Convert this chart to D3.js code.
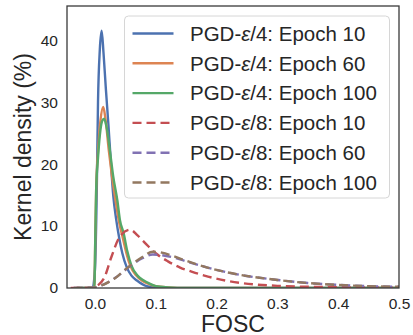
<!DOCTYPE html>
<html lang="en">
<head>
    <meta charset="UTF-8">
    <title>Kernel density of FOSC</title>
    <style>
        body { margin: 0; background: #fff; }
        svg text { font-family: Arial, "Liberation Sans", sans-serif; fill: #262626; }
        .tick text { font-size: 15.5px; }
        .tick line { display: none; }
        .domain { display: none; }
        .axis-label { font-size: 23px; }
        .legend-text { font-size: 20.5px; }
    </style>
</head>
<body>
    <svg width="413" height="335"></svg>

    <script src="https://d3js.org/d3.v7.min.js"></script>
    <script>

        // Tick values shown on the axes
        const xTicks = [0.0, 0.1, 0.2, 0.3, 0.4, 0.5];
        const yTicks = [0, 10, 20, 30, 40];

        // Legend labels (series names), split around the math epsilon
        const seriesNames = [
            ['PGD-', '\u03b5', '/4: Epoch 10'],
            ['PGD-', '\u03b5', '/4: Epoch 60'],
            ['PGD-', '\u03b5', '/4: Epoch 100'],
            ['PGD-', '\u03b5', '/8: Epoch 10'],
            ['PGD-', '\u03b5', '/8: Epoch 60'],
            ['PGD-', '\u03b5', '/8: Epoch 100']
        ];

        // Density curves: [FOSC, density %]
        const eps4Epoch10 = [
            [-0.03, 0], [-0.004, 0], [0.0, 3], [0.003, 16], [0.005, 30], [0.008, 38.5],
            [0.011, 41.5], [0.014, 38], [0.018, 32], [0.022, 26.5], [0.026, 20.5],
            [0.03, 15], [0.035, 11], [0.04, 8], [0.045, 5.6], [0.052, 3.4],
            [0.06, 2], [0.069, 1.2], [0.085, 0.3], [0.1, 0.1], [0.15, 0], [0.5, 0]
        ];
        const eps4Epoch60 = [
            [-0.03, 0], [-0.001, 0], [0.0005, 8], [0.002, 16], [0.005, 22], [0.009, 27],
            [0.0135, 29.2], [0.017, 27.5], [0.023, 22], [0.028, 18], [0.034, 14],
            [0.04, 10.5], [0.046, 8], [0.052, 5.5], [0.058, 3.6], [0.068, 2],
            [0.077, 1.2], [0.09, 0.6], [0.1, 0.3], [0.12, 0.1], [0.15, 0], [0.5, 0]
        ];
        const eps4Epoch100 = [
            [-0.03, 0], [-0.001, 0], [0.0005, 8], [0.002, 16], [0.005, 21], [0.009, 25.5],
            [0.012, 27], [0.015, 27.3], [0.019, 26], [0.025, 21.8], [0.03, 18],
            [0.037, 14], [0.041, 11], [0.047, 8.9], [0.053, 6], [0.06, 3.6],
            [0.07, 2], [0.079, 1.3], [0.09, 0.7], [0.1, 0.3], [0.12, 0.1], [0.15, 0], [0.5, 0]
        ];
        const eps8Epoch10 = [
            [-0.04, 0], [-0.005, 0], [0.003, 0.3], [0.016, 1.8], [0.027, 5], [0.041, 8.3],
            [0.058, 9.4], [0.07, 8.5], [0.085, 7.0], [0.1, 5.6], [0.12, 4.3],
            [0.14, 3.3], [0.16, 2.6], [0.18, 2.0], [0.22, 1.1], [0.26, 0.6],
            [0.3, 0.35], [0.35, 0.2], [0.4, 0.12], [0.45, 0.08], [0.5, 0.05]
        ];
        const eps8Epoch60 = [
            [-0.035, 0], [0.0, 0.1], [0.015, 0.6], [0.036, 1.8], [0.05, 2.9], [0.063, 3.9],
            [0.078, 4.8], [0.095, 5.4], [0.11, 5.3], [0.13, 4.9], [0.15, 4.3],
            [0.185, 3.3], [0.24, 2.1], [0.3, 1.3], [0.35, 0.8], [0.4, 0.5],
            [0.45, 0.3], [0.5, 0.2]
        ];
        const eps8Epoch100 = [
            [-0.035, 0], [0.0, 0.1], [0.015, 0.6], [0.036, 1.8], [0.05, 3], [0.063, 4],
            [0.078, 5], [0.095, 5.85], [0.11, 5.7], [0.13, 5.1], [0.15, 4.4],
            [0.185, 3.3], [0.24, 2.1], [0.3, 1.3], [0.35, 0.8], [0.4, 0.5],
            [0.45, 0.3], [0.5, 0.2]
        ];

        const seriesValues = [eps4Epoch10, eps4Epoch60, eps4Epoch100,
                              eps8Epoch10, eps8Epoch60, eps8Epoch100];

        // seaborn "deep" palette
        const colors = ['#4c72b0', '#dd8452', '#55a868', '#c44e52', '#8172b3', '#937860'];
        const dashed = [false, false, false, true, true, true];

        const margin = { left: 67, right: 14, top: 6, bottom: 47 };

        const svg = d3.select('svg');
        const width = +svg.attr('width');
        const height = +svg.attr('height');
        const innerWidth = width - margin.left - margin.right;
        const innerHeight = height - margin.top - margin.bottom;

        const xScale = d3.scaleLinear()
            .domain([-0.046, 0.5])
            .range([0, innerWidth]);

        const yScale = d3.scaleLinear()
            .domain([0, 45.5])
            .range([innerHeight, 0]);

        const group = svg.append('g')
            .attr('transform', 'translate(' + margin.left + ' ' + margin.top + ')');

        svg.append('defs').append('clipPath')
            .attr('id', 'plot-clip')
            .append('rect')
            .attr('width', innerWidth)
            .attr('height', innerHeight);

        // Axes (no tick marks, only labels)
        group.append('g')
            .attr('transform', 'translate(0 ' + innerHeight + ')')
            .call(d3.axisBottom(xScale)
                .tickValues(xTicks)
                .tickFormat(d3.format('.1f'))
                .tickSize(0)
                .tickPadding(10));

        group.append('g')
            .call(d3.axisLeft(yScale)
                .tickValues(yTicks)
                .tickSize(0)
                .tickPadding(9));

        // Curves
        const line = d3.line()
            .x(function (d) { return xScale(d[0]); })
            .y(function (d) { return yScale(d[1]); })
            .curve(d3.curveMonotoneX);

        const curves = group.append('g')
            .attr('clip-path', 'url(#plot-clip)');

        seriesValues.forEach(function (values, i) {
            curves.append('path')
                .datum(values)
                .attr('d', line)
                .attr('fill', 'none')
                .attr('stroke', colors[i])
                .attr('stroke-width', 2.4)
                .attr('stroke-linejoin', 'round')
                .attr('stroke-dasharray', dashed[i] ? '9 5' : null);
        });

        // Frame
        group.append('rect')
            .attr('width', innerWidth)
            .attr('height', innerHeight)
            .attr('fill', 'none')
            .attr('stroke', '#3a3a3a')
            .attr('stroke-width', 1.3);

        // Axis labels
        group.append('text')
            .attr('class', 'axis-label')
            .attr('x', innerWidth / 2)
            .attr('y', innerHeight + 44)
            .attr('text-anchor', 'middle')
            .text('FOSC');

        group.append('text')
            .attr('class', 'axis-label')
            .attr('transform', 'rotate(-90)')
            .attr('x', -innerHeight / 2)
            .attr('y', -36.5)
            .attr('text-anchor', 'middle')
            .text('Kernel density (%)');

        // Legend
        const legendG = group.append('g')
            .attr('transform', 'translate(' + (124.5 - margin.left) + ' ' + (16 - margin.top) + ')');

        legendG.append('rect')
            .attr('width', 265)
            .attr('height', 182)
            .attr('rx', 4)
            .attr('fill', 'rgba(255,255,255,0.85)')
            .attr('stroke', '#d6d6d6')
            .attr('stroke-width', 1);

        const rows = legendG.selectAll('.legend-row')
            .data(seriesNames)
            .enter()
            .append('g')
            .attr('class', 'legend-row')
            .attr('transform', function (d, i) {
                return 'translate(0 ' + (17.5 + i * 29.8) + ')';
            });

        rows.append('line')
            .attr('x1', 8)
            .attr('x2', 49)
            .attr('stroke', function (d, i) { return colors[i]; })
            .attr('stroke-width', 2.4)
            .attr('stroke-dasharray', function (d, i) { return dashed[i] ? '9 5' : null; });

        const labels = rows.append('text')
            .attr('class', 'legend-text')
            .attr('x', 65.5)
            .attr('dy', '0.36em');

        labels.append('tspan').text(function (d) { return d[0]; });
        labels.append('tspan')
            .style('font-style', 'italic')
            .text(function (d) { return d[1]; });
        labels.append('tspan').text(function (d) { return d[2]; });

    </script>
</body>
</html>
